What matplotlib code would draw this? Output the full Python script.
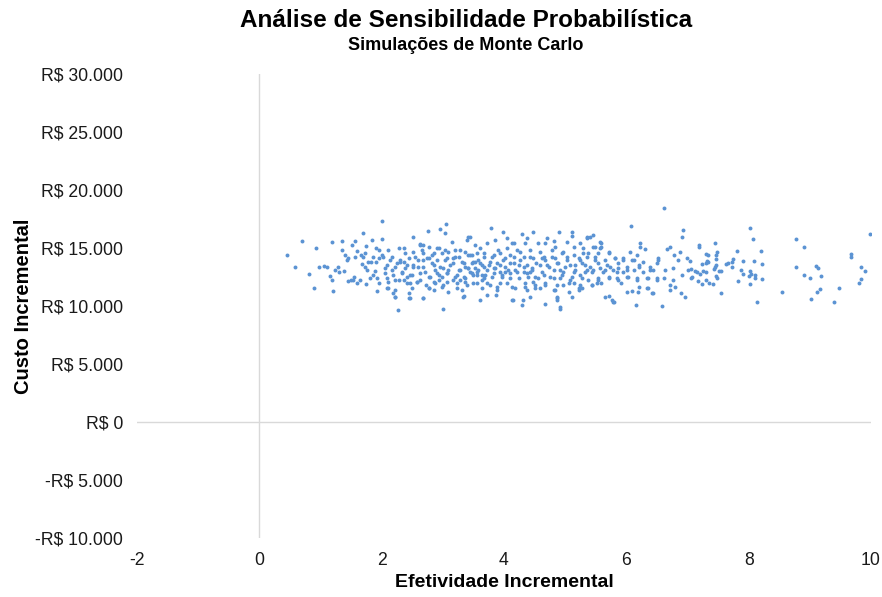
import matplotlib
matplotlib.use('Agg')
import matplotlib.pyplot as plt
from matplotlib.ticker import FuncFormatter

# Monte Carlo results: (incremental effectiveness, incremental cost in R$)
sims_0_2 = [
    (0.46, 14370), (0.59, 13340), (0.70, 15600), (0.82, 12790), (0.89, 11530),
    (0.93, 15030), (0.98, 13360), (1.06, 13450), (1.10, 13340), (1.15, 12560),
    (1.19, 15490), (1.19, 12220), (1.21, 11320), (1.24, 13100), (1.29, 13340),
    (1.30, 12900), (1.36, 15600), (1.36, 14800), (1.38, 12990), (1.40, 14370),
    (1.43, 13970), (1.45, 14110), (1.45, 12130), (1.50, 12220), (1.51, 15290),
    (1.53, 12220), (1.55, 12530), (1.56, 14200), (1.57, 15600), (1.60, 14720),
    (1.60, 11980), (1.64, 12220), (1.66, 14370), (1.68, 13600), (1.69, 14200),
    (1.70, 16290), (1.73, 14600), (1.73, 13390), (1.74, 15150), (1.75, 11900),
    (1.76, 13100), (1.77, 13790), (1.81, 12440), (1.83, 13790), (1.85, 15720),
    (1.86, 12670), (1.86, 14200), (1.89, 13040), (1.90, 15030), (1.90, 13790),
    (1.92, 12440), (1.93, 11270), (1.95, 14110), (1.96, 14800), (1.96, 11960),
]

sims_2_3 = [
    (2.00, 17330), (2.00, 15750), (2.26, 9660), (2.01, 14400), (2.14, 13970),
    (2.06, 13250), (2.09, 12390), (2.11, 11530), (2.19, 11090), (2.22, 10800),
    (2.28, 14970), (2.30, 13820), (2.33, 12960), (2.36, 12240), (2.39, 14540),
    (2.41, 13530), (2.44, 11090), (2.47, 10660), (2.49, 12670), (2.52, 15970),
    (2.55, 14250), (2.58, 12100), (2.60, 13390), (2.63, 15260), (2.66, 14830),
    (2.68, 10660), (2.71, 12960), (2.74, 14110), (2.76, 16490), (2.77, 11530),
    (2.79, 12530), (2.82, 13680), (2.85, 14540), (2.88, 13100), (2.90, 14970),
    (2.93, 12240), (2.95, 16640), (2.96, 13390), (2.99, 11660), (3.01, 9740),
    (2.17, 13100), (2.22, 12240), (2.25, 13680), (2.36, 13820), (2.41, 12530),
    (2.47, 11960), (2.52, 13390), (2.63, 12240), (2.68, 13970), (2.77, 15110),
    (2.85, 12100), (2.90, 12820), (2.99, 12530),
    (2.63, 15340), (2.68, 15260), (2.36, 14970), (2.93, 14970), (3.04, 14830),
    (2.11, 14830), (2.52, 14680), (2.68, 14540), (2.82, 14400), (2.99, 14540),
    (2.03, 14250), (2.17, 14250), (2.30, 13970), (2.44, 14110), (2.60, 13970),
    (2.77, 14110), (2.90, 13970), (3.07, 14110), (2.09, 13530), (2.22, 13390),
    (2.39, 13250), (2.52, 13530), (2.68, 13390), (2.85, 13530), (3.01, 13250),
    (2.06, 12820), (2.19, 12670), (2.33, 12820), (2.47, 12670), (2.63, 12820),
    (2.77, 12530), (2.93, 12670), (3.07, 12820), (2.11, 12100), (2.28, 12240),
    (2.41, 11960), (2.58, 12100), (2.72, 11810), (2.88, 11960), (3.01, 11810),
    (2.09, 11530), (2.22, 11380), (2.50, 11530), (2.77, 11530), (2.85, 11380),
    (2.22, 10800), (2.44, 10660), (2.68, 10660),
]

sims_3_4 = [
    (3.03, 16270), (3.04, 13970), (3.05, 17070), (3.07, 12820), (3.08, 11230),
    (3.09, 14680), (3.12, 13530), (3.15, 15540), (3.17, 12240), (3.20, 14250),
    (3.23, 11530), (3.26, 13100), (3.28, 14830), (3.31, 13820), (3.33, 10800),
    (3.34, 12530), (3.37, 13390), (3.39, 15690), (3.42, 14400), (3.45, 15970),
    (3.45, 12960), (3.48, 13680), (3.50, 11960), (3.53, 15260), (3.53, 13250),
    (3.56, 12670), (3.58, 13970), (3.60, 10520), (3.61, 14970), (3.64, 12240),
    (3.67, 13390), (3.07, 12100), (3.09, 13100), (3.17, 14110), (3.23, 12670),
    (3.28, 12240), (3.37, 12100), (3.42, 13250), (3.48, 12820), (3.53, 13820),
    (3.58, 13100), (3.64, 12670), (3.48, 14400), (3.56, 14540), (3.61, 13680),
    (3.79, 16750), (3.99, 16410), (3.72, 15410), (3.86, 15690), (3.80, 14250),
    (3.94, 14540), (3.75, 13530), (3.88, 13680), (3.69, 12670), (3.83, 12820),
    (3.97, 12530), (3.72, 11960), (3.88, 11660), (3.72, 10950), (3.87, 10950),
    (3.83, 13250), (3.94, 12960), (3.99, 13970), (3.67, 14540),
    (3.42, 15920), (3.20, 14830), (3.37, 14680), (3.91, 14830), (3.26, 14250),
    (3.45, 14400), (3.67, 14250), (3.83, 14400), (3.17, 13680), (3.34, 13680),
    (3.50, 13820), (3.64, 13530), (3.77, 13820), (3.94, 13530), (3.28, 13100),
    (3.42, 13250), (3.56, 12960), (3.72, 13100), (3.86, 13250), (3.20, 12530),
    (3.37, 12390), (3.50, 12670), (3.67, 12390), (3.80, 12530), (3.97, 12670),
    (3.23, 11960), (3.39, 11810), (3.56, 11960), (3.77, 11810), (3.94, 11960),
    (3.31, 11380), (3.64, 11530), (3.88, 11380), (3.34, 10890),
]

sims_4_5 = [
    (4.29, 16180), (4.48, 16410), (4.90, 16410), (4.05, 15840), (4.16, 15410),
    (4.37, 15840), (4.56, 15410), (4.70, 15840), (4.84, 15110), (4.10, 14400),
    (4.26, 14680), (4.43, 14250), (4.62, 14110), (4.78, 14250), (4.95, 14540),
    (4.02, 13390), (4.16, 13680), (4.32, 13390), (4.46, 13250), (4.59, 13530),
    (4.73, 13390), (4.86, 13680), (5.00, 13390), (4.10, 12820), (4.24, 12390),
    (4.37, 12820), (4.51, 12530), (4.65, 12670), (4.81, 12390), (4.95, 12670),
    (4.05, 11960), (4.18, 11530), (4.35, 11660), (4.51, 11530), (4.67, 11810),
    (4.84, 11380), (4.97, 11810), (4.15, 10520), (4.31, 10520), (4.29, 10090),
    (4.43, 10800), (4.67, 10170), (4.87, 10660), (4.87, 10520), (4.92, 9710),
    (4.07, 13100), (4.21, 12960), (4.43, 12960), (4.48, 12100), (4.26, 13970),
    (4.67, 13970), (4.92, 13100),
    (4.13, 15410), (4.05, 14970), (4.21, 14830), (4.02, 14110), (4.16, 14250),
    (4.10, 13680), (4.24, 13530), (4.02, 12960), (4.18, 13100), (4.10, 12390),
    (4.13, 11660), (4.13, 10520), (4.81, 15630), (4.67, 15410), (4.35, 15410),
    (4.43, 14830), (4.59, 14680), (4.78, 14830), (4.97, 14680), (4.32, 14250),
    (4.48, 14110), (4.65, 14250), (4.84, 14110), (4.37, 13530), (4.53, 13680),
    (4.70, 13530), (4.89, 13680), (4.32, 12960), (4.46, 13100), (4.62, 12960),
    (4.81, 13100), (4.97, 12960), (4.40, 12530), (4.56, 12390), (4.75, 12530),
    (4.92, 12390), (4.35, 11960), (4.51, 11810), (4.67, 11960), (4.86, 11810),
    (4.37, 11380), (4.59, 11530), (4.81, 11380), (4.86, 10800), (4.92, 9940),
]

sims_5_6 = [
    (5.11, 16410), (5.11, 16060), (5.03, 15540), (5.25, 15410), (5.36, 15840),
    (5.14, 14400), (5.30, 14540), (5.16, 13530), (5.33, 13530), (5.08, 12240),
    (5.25, 12670), (5.14, 11960), (5.27, 11530), (5.11, 10800), (5.22, 11380),
    (5.03, 13970), (5.25, 13970), (5.14, 12960), (5.36, 13100), (5.38, 12240),
    (5.41, 15970), (5.46, 16120), (5.48, 15110), (5.59, 15460), (5.57, 14970),
    (5.38, 14540), (5.54, 14540), (5.71, 14600), (5.49, 13970), (5.65, 13970),
    (5.82, 14110), (5.95, 13970), (5.41, 13390), (5.57, 13250), (5.74, 13390),
    (5.87, 13250), (5.44, 12960), (5.65, 13100), (5.84, 12960), (5.54, 12240),
    (5.71, 12390), (5.87, 12240), (5.44, 11810), (5.52, 11960), (5.65, 10800),
    (5.72, 10890), (5.76, 10520), (5.80, 10320),
    (5.35, 15970), (5.14, 15110), (5.30, 14970), (5.03, 14250), (5.22, 14110),
    (5.35, 14250), (5.08, 13530), (5.27, 13680), (5.16, 13100), (5.33, 12960),
    (5.11, 12530), (5.27, 12390), (5.06, 11960), (5.25, 11810), (5.06, 11230),
    (5.22, 11530), (5.57, 15540), (5.46, 15110), (5.59, 15110), (5.71, 14680),
    (5.49, 14250), (5.82, 14110), (5.95, 14110), (5.54, 13680), (5.68, 13530),
    (5.87, 13680), (5.46, 13100), (5.62, 12960), (5.79, 13100), (5.95, 12960),
    (5.54, 12390), (5.71, 12530), (5.84, 12390), (5.44, 11810), (5.59, 11960),
    (5.92, 11960), (5.78, 10370),
]

sims_6_8 = [
    (6.61, 18470), (6.08, 16900), (6.93, 16550), (6.91, 15970), (6.23, 15410),
    (6.23, 15110), (6.31, 14910), (6.72, 15110), (6.66, 14910), (6.87, 14680),
    (6.06, 14680), (6.17, 14400), (6.78, 14400), (6.12, 13970), (6.28, 13820),
    (6.52, 13970), (6.85, 13970), (6.99, 14110), (6.01, 13100), (6.20, 13390),
    (6.39, 13100), (6.50, 13680), (6.63, 13100), (6.77, 13250), (7.01, 13100),
    (6.03, 12530), (6.17, 12240), (6.34, 12390), (6.50, 12240), (6.61, 12390),
    (6.77, 12240), (6.91, 12670), (7.07, 12530), (6.34, 11530), (6.72, 11810),
    (6.80, 11610), (6.01, 11230), (6.09, 11320), (6.19, 11230), (6.44, 11090),
    (6.72, 11380), (6.90, 11090), (6.96, 10750), (6.16, 10090), (6.59, 10000),
    (6.09, 13970), (6.52, 14110), (6.01, 13390), (6.20, 13530), (6.39, 13390),
    (6.12, 13100), (6.28, 12960), (6.44, 13100), (6.01, 12530), (6.17, 12390),
    (6.36, 12390), (6.50, 12390), (6.20, 11660), (6.36, 11530), (6.42, 11090),
    (7.19, 15260), (7.19, 15110), (7.45, 15410), (7.49, 14680), (7.30, 14480),
    (7.33, 14370), (7.81, 14720), (7.47, 14370), (7.47, 14030), (7.32, 13900),
    (7.30, 13730), (7.24, 13620), (7.34, 13790), (7.74, 14030), (7.72, 13790),
    (7.66, 13680), (7.63, 13600), (7.91, 13900), (7.72, 13340), (7.47, 13560),
    (7.45, 13340), (7.43, 13160), (7.04, 13880), (7.05, 13160), (7.12, 13020),
    (7.16, 12900), (7.21, 12790), (7.25, 13020), (7.30, 12930), (7.51, 13020),
    (7.55, 13020), (7.47, 12560), (7.49, 12440), (7.06, 12440), (7.17, 12130),
    (7.24, 11900), (7.30, 12220), (7.36, 12010), (7.42, 11900), (7.88, 13130),
    (7.91, 12790), (7.83, 12130), (7.55, 11090),
]

sims_8_10 = [
    (8.02, 16750), (8.07, 15750), (8.77, 15750), (8.91, 15060), (9.99, 16180),
    (9.67, 14480), (9.67, 14250), (8.20, 14720), (8.09, 13900), (8.22, 13600),
    (8.02, 13020), (8.04, 12790), (8.10, 12670), (8.10, 12440), (8.00, 12560),
    (8.22, 12330), (8.02, 11900), (8.13, 10320), (8.54, 11230), (8.77, 13360),
    (8.91, 12670), (9.01, 12440), (9.10, 13470), (9.14, 13250), (9.18, 12560),
    (9.16, 11440), (9.12, 11210), (9.02, 10630), (9.40, 10320), (9.48, 11550),
    (9.83, 13360), (9.91, 13020), (9.83, 12330), (9.80, 11980),
]

y_ticks = [-10000, -5000, 0, 5000, 10000, 15000, 20000, 25000, 30000]
x_ticks = [-2, 0, 2, 4, 6, 8, 10]


def brl(v, pos=None):
    s = 'R$ {:,.0f}'.format(abs(v)).replace(',', '.')
    return '-' + s if v < 0 else s


plt.rcParams['font.family'] = ['Liberation Sans', 'DejaVu Sans']
plt.rcParams['axes.unicode_minus'] = False

fig = plt.figure(figsize=(8.82, 5.97), dpi=100)
ax = fig.add_axes([0.1553, 0.0988, 0.8322, 0.7772])

points = sims_0_2 + sims_2_3 + sims_3_4 + sims_4_5 + sims_5_6 + sims_6_8 + sims_8_10
eff = [p[0] for p in points]
cost = [p[1] for p in points]
ax.scatter(eff, cost, s=8, color='#5b93d3', linewidths=0, zorder=3)

ax.axhline(0, color='#d9d9d9', lw=1, zorder=1)
ax.axvline(0, color='#d9d9d9', lw=1, zorder=1)
ax.set_xlim(-2, 10)
ax.set_ylim(-10000, 30000)
ax.set_xticks(x_ticks)
ax.set_yticks(y_ticks)
ax.yaxis.set_major_formatter(FuncFormatter(brl))
for sp in ax.spines.values():
    sp.set_visible(False)
ax.tick_params(axis='y', length=0, pad=10, labelsize=12.7, colors='#1a1a1a')
ax.tick_params(axis='x', length=0, pad=10, labelsize=12.7, colors='#1a1a1a')

ax.set_xlabel('Efetividade Incremental', fontsize=14, fontweight='bold', labelpad=4)
ax.set_ylabel('Custo Incremental', fontsize=14.5, fontweight='bold', labelpad=1.5)

fig.text(0.528, 0.966, 'Análise de Sensibilidade Probabilística', ha='center', va='center',
         fontsize=17.5, fontweight='bold')
fig.text(0.528, 0.923, 'Simulações de Monte Carlo', ha='center', va='center',
         fontsize=13, fontweight='bold')

fig.savefig('out.png', dpi=100)
